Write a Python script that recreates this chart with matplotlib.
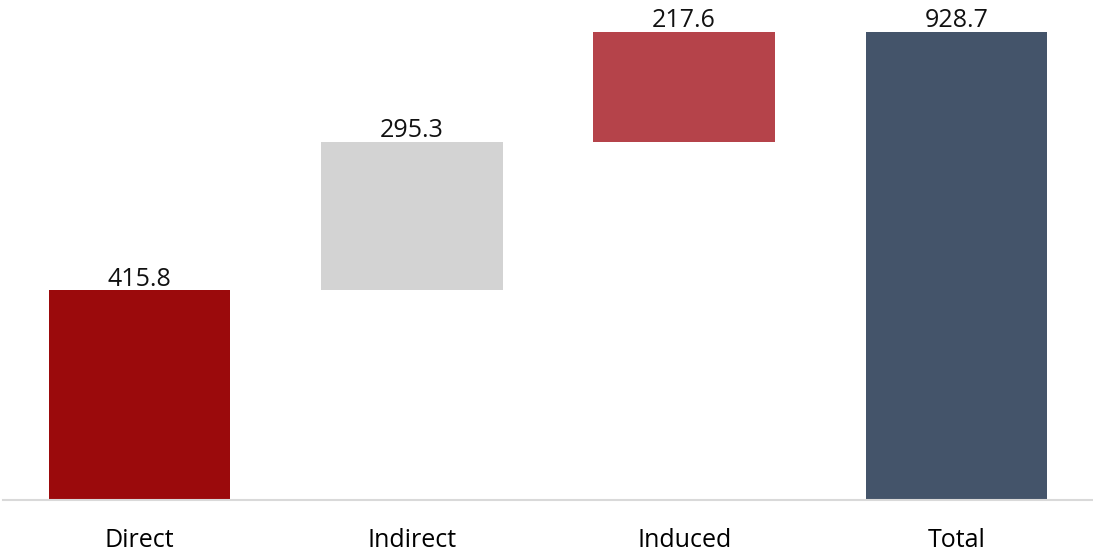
import matplotlib
matplotlib.use("Agg")
import matplotlib.pyplot as plt

# waterfall data
categories = ["Direct", "Indirect", "Induced", "Total"]
values = [415.8, 295.3, 217.6, 928.7]
is_total = [False, False, False, True]
colors = ["#9B0A0C", "#D3D3D3", "#B5434A", "#44546A"]

plt.rcParams["font.family"] = ["Open Sans", "DejaVu Sans"]

fig = plt.figure(figsize=(10.93, 5.51), dpi=100)
ax = fig.add_axes([0.0032, 0.0926, 0.9964, 0.9074])

bottoms, running = [], 0.0
for v, tot in zip(values, is_total):
    if tot:
        bottoms.append(0.0)
    else:
        bottoms.append(running)
        running += v

x = range(len(categories))
ax.bar(x, values, bottom=bottoms, width=0.667, color=colors, zorder=2)
for xi, v, b in zip(x, values, bottoms):
    ax.annotate(f"{v:.1f}", (xi, b + v), xytext=(0, -1), textcoords="offset points",
                ha="center", va="bottom", fontsize=18, color="#111111")

ax.set_xlim(-0.5, 3.5)
ax.set_ylim(0, 992)
ax.set_xticks(list(x))
ax.set_xticklabels(categories, fontsize=18)
ax.tick_params(axis="x", length=0, pad=20)
ax.set_yticks([])
for s in ("top", "right", "left"):
    ax.spines[s].set_visible(False)
ax.spines["bottom"].set_color("#D9D9D9")
ax.spines["bottom"].set_linewidth(1.5)

fig.savefig("out.png", dpi=100)
